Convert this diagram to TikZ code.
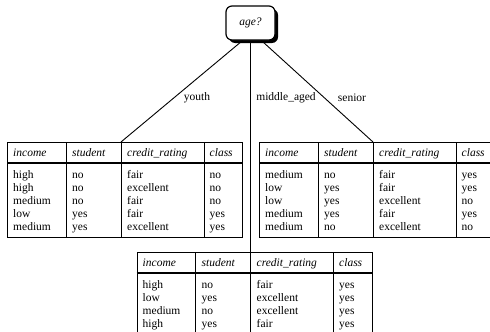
\documentclass[tikz,border=0pt]{standalone}
\usepackage{fontspec}
\setmainfont{Liberation Serif}
\usetikzlibrary{shadows}

\tikzset{
  txt/.style={font=\fontsize{11.5}{13}\selectfont, inner sep=0pt},
  cell/.style={txt, anchor=base west},
  agebox/.style={draw, line width=1.2pt, rounded corners=6pt, fill=white,
    minimum width=49pt, minimum height=34pt, txt,
    drop shadow={shadow xshift=3pt, shadow yshift=-3pt, fill=black, opacity=1}},
  tframe/.style={draw, line width=1.1pt, inner sep=0pt, minimum width=235pt,
    minimum height=95pt, anchor=north west},
  grid/.style={line width=0.9pt},
  hsep/.style={line width=1.4pt},
  edge/.style={line width=0.9pt},
  lbl/.style={txt, anchor=center}
}

\newcommand{\mytable}[4]{%
  \node[tframe] (#3) at (#1,#2) {};
  \draw[hsep] (#1,#2+21) -- (#1+235,#2+21);
  \draw[grid] (#1+59,#2) -- (#1+59,#2+95);
  \draw[grid] (#1+114,#2) -- (#1+114,#2+95);
  \draw[grid] (#1+197,#2) -- (#1+197,#2+95);
  \coordinate (#3-att) at (#1+114,#2);
  \node[cell] (#3-h1) at (#1+6,#2+14.5) {\textit{income}};
  \node[cell] (#3-h2) at (#1+65,#2+14.5) {\textit{student}};
  \node[cell] (#3-h3) at (#1+120,#2+14.5) {\textit{credit\_rating}};
  \node[cell] (#3-h4) at (#1+202.5,#2+14.5) {\textit{class}};
  \foreach [count=\i] \a/\b/\c/\d in {#4} {
    \node[cell] (#3-r\i a) at (#1+6,#2+36.5+13*\i-13) {\a};
    \node[cell] (#3-r\i b) at (#1+65,#2+36.5+13*\i-13) {\b};
    \node[cell] (#3-r\i c) at (#1+120,#2+36.5+13*\i-13) {\c};
    \node[cell] (#3-r\i d) at (#1+202.5,#2+36.5+13*\i-13) {\d};
  }%
}

\begin{document}
\begin{tikzpicture}[x=1pt,y=-1pt]
\useasboundingbox (0,0) rectangle (490,332);
\clip (0,0) rectangle (490,332);

\mytable{7}{142}{tL}{high/no/fair/no, high/no/excellent/no, medium/no/fair/no, low/yes/fair/yes, medium/yes/excellent/yes}
\mytable{259}{142}{tR}{medium/no/fair/yes, low/yes/fair/yes, low/yes/excellent/no, medium/yes/fair/yes, medium/no/excellent/no}
\mytable{136.5}{252}{tM}{high/no/fair/yes, low/yes/excellent/yes, medium/no/excellent/yes, high/yes/fair/yes}

\node[agebox] (age) at (250.5,23) {\textit{age?}};

\draw[edge] ([xshift=-8pt]age.south) -- (tL-att);
\draw[edge] (age.south) -- (tM-att);
\draw[edge] ([xshift=11pt]age.south) -- (tR-att);

\node[lbl] (l1) at (197,98) {youth};
\node[lbl] (l2) at (286,98) {middle\_aged};
\node[lbl] (l3) at (352,98) {senior};
\end{tikzpicture}
\end{document}
